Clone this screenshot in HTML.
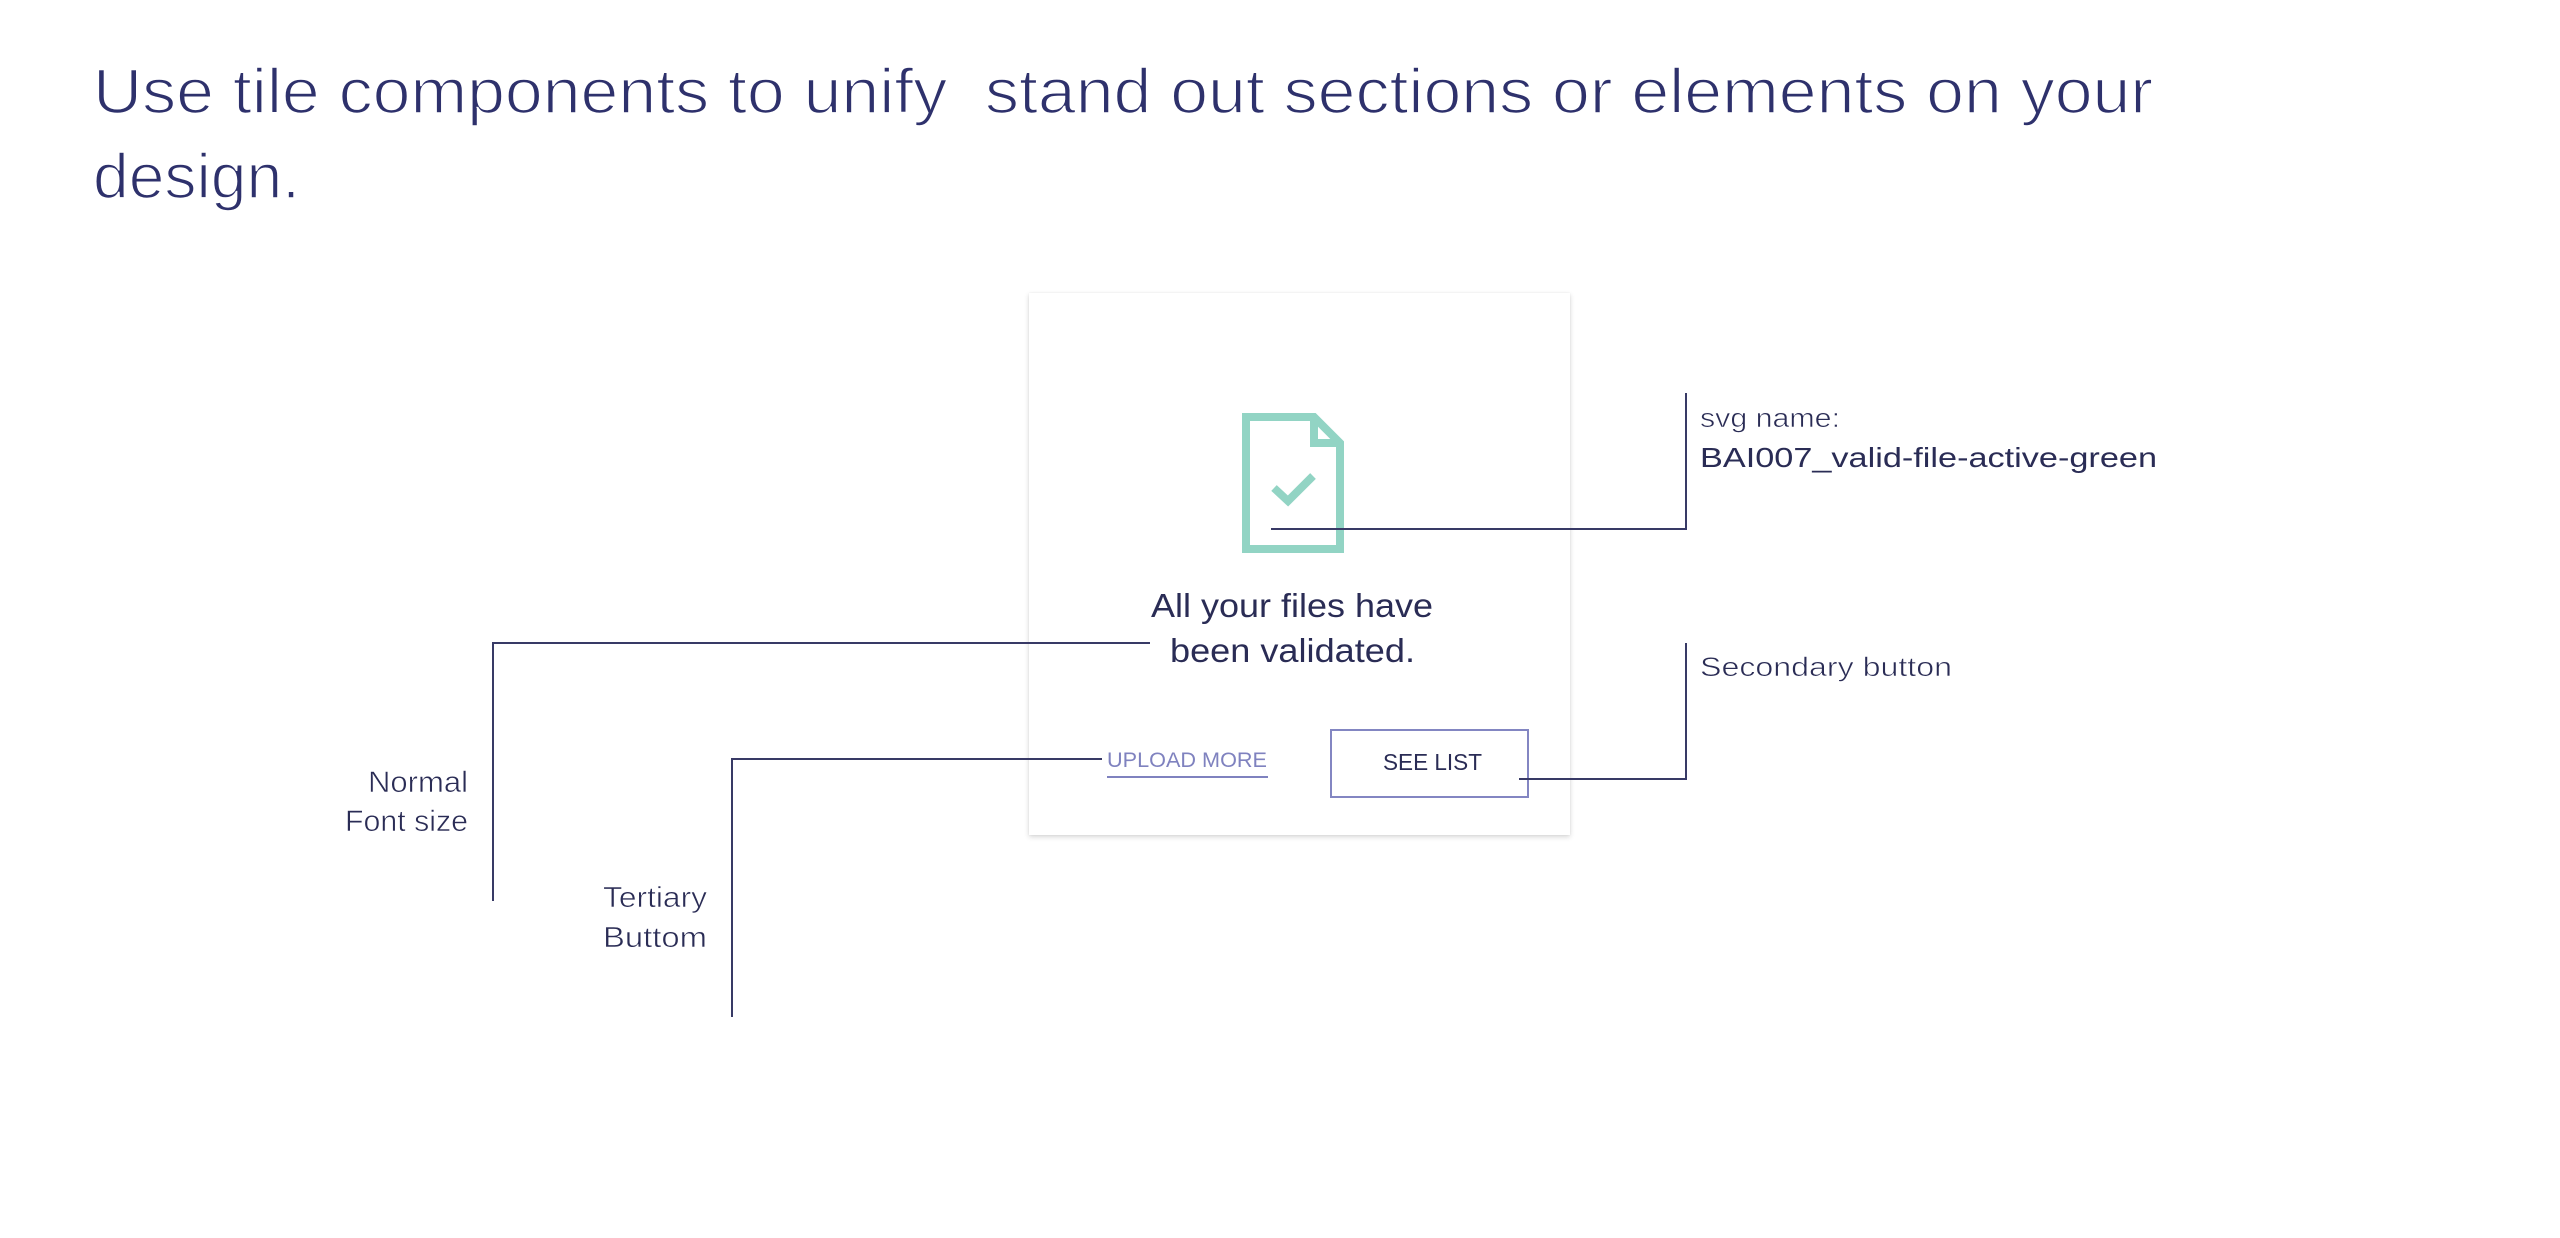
<!DOCTYPE html>
<html>
<head>
<meta charset="utf-8">
<style>
  html, body { margin: 0; padding: 0; background: #ffffff; }
  body { width: 2560px; height: 1238px; overflow: hidden; position: relative; }
  .card {
    position: absolute; left: 1029px; top: 293px; width: 541px; height: 542px;
    background: #ffffff;
    box-shadow: 0 2px 5px rgba(0,0,0,0.16), 0 0 2px rgba(0,0,0,0.06);
  }
  svg { position: absolute; left: 0; top: 0; }
  text { font-family: "Liberation Sans", "DejaVu Sans", sans-serif; }
</style>
</head>
<body>
<div class="card"></div>
<svg width="2560" height="1238" viewBox="0 0 2560 1238" xmlns="http://www.w3.org/2000/svg">
  <!-- Title -->
  <g fill="#2e316c" stroke="#ffffff" stroke-width="1.6">
    <text x="93" y="113" font-size="63" textLength="2060" lengthAdjust="spacingAndGlyphs" xml:space="preserve">Use tile components to unify  stand out sections or elements on your</text>
    <text x="93" y="198" font-size="63" textLength="207" lengthAdjust="spacingAndGlyphs">design.</text>
  </g>

  <!-- File icon -->
  <g fill="none" stroke="#92d4c4" stroke-width="8" stroke-linejoin="miter">
    <path d="M1246 417 L1314 417 L1340 443 L1340 549 L1246 549 Z"/>
    <path d="M1314 417 L1314 443 L1340 443"/>
    <polyline points="1274,488 1288,501 1313,476"/>
  </g>

  <!-- Card text -->
  <g fill="#2a2c55">
    <text x="1151" y="617" font-size="33" textLength="282" lengthAdjust="spacingAndGlyphs">All your files have</text>
    <text x="1170" y="662" font-size="33" textLength="245" lengthAdjust="spacingAndGlyphs">been validated.</text>
    <text x="1383" y="770" font-size="23" textLength="99" lengthAdjust="spacingAndGlyphs">SEE LIST</text>
  </g>
  <text x="1107" y="767" font-size="21" fill="#7f82bf" textLength="160" lengthAdjust="spacingAndGlyphs">UPLOAD MORE</text>
  <rect x="1107" y="776" width="161" height="2" fill="#7f82bf"/>

  <!-- Secondary button border -->
  <rect x="1331" y="730" width="197" height="67" fill="none" stroke="#8386c2" stroke-width="2"/>

  <!-- Connectors -->
  <g fill="none" stroke="#383a66" stroke-width="2">
    <polyline points="1271,529 1686,529 1686,393"/>
    <polyline points="1519,779 1686,779 1686,643"/>
    <polyline points="1150,643 493,643 493,901"/>
    <polyline points="1102,759 732,759 732,1017"/>
  </g>

  <!-- Right labels -->
  <g fill="#2a2c55">
    <text x="1700" y="427" font-size="27" textLength="140" lengthAdjust="spacingAndGlyphs" stroke="#ffffff" stroke-width="0.6">svg name:</text>
    <text x="1700" y="467" font-size="28" textLength="457" lengthAdjust="spacingAndGlyphs">BAI007_valid-file-active-green</text>
    <text x="1700" y="676" font-size="27" textLength="252" lengthAdjust="spacingAndGlyphs" stroke="#ffffff" stroke-width="0.6">Secondary button</text>
  </g>

  <!-- Left labels -->
  <g fill="#2a2c55" stroke="#ffffff" stroke-width="0.6">
    <text x="368" y="792" font-size="30" textLength="100" lengthAdjust="spacingAndGlyphs">Normal</text>
    <text x="345" y="831" font-size="30" textLength="123" lengthAdjust="spacingAndGlyphs">Font size</text>
    <text x="603" y="907" font-size="29" textLength="104" lengthAdjust="spacingAndGlyphs">Tertiary</text>
    <text x="603" y="947" font-size="29" textLength="104" lengthAdjust="spacingAndGlyphs">Buttom</text>
  </g>
</svg>
</body>
</html>
